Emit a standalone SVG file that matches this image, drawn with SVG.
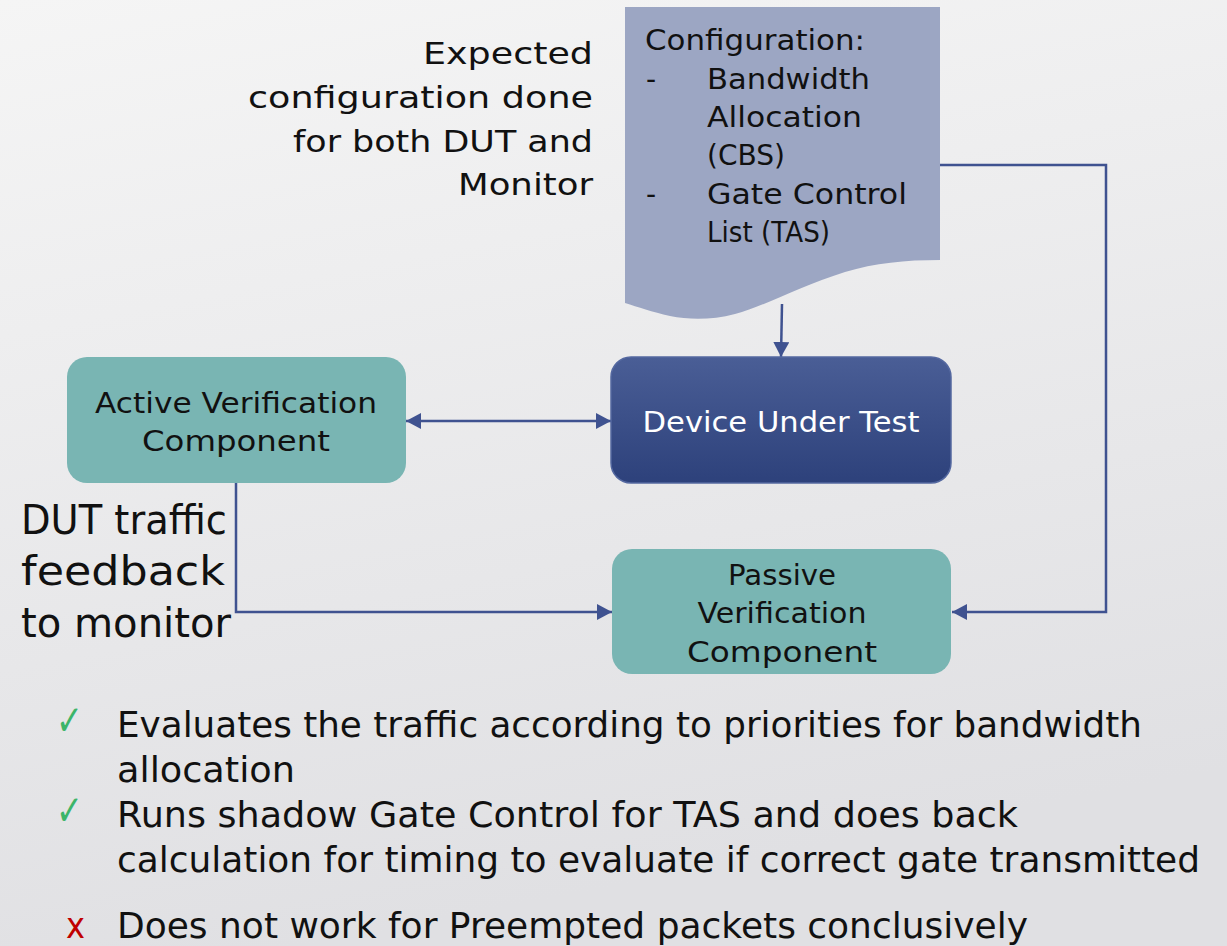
<svg xmlns="http://www.w3.org/2000/svg" width="1227" height="946" viewBox="0 0 1227 946">
  <defs>
    <linearGradient id="bg" x1="0" y1="0" x2="0.25" y2="1">
      <stop offset="0" stop-color="#f5f5f5"/>
      <stop offset="1" stop-color="#e0e0e3"/>
    </linearGradient>
    <linearGradient id="dutFill" x1="0" y1="0" x2="0" y2="1">
      <stop offset="0" stop-color="#4a5e96"/>
      <stop offset="1" stop-color="#2d417b"/>
    </linearGradient>
    <marker id="arrow" viewBox="0 0 15 16" refX="15" refY="8" markerWidth="15" markerHeight="16" markerUnits="userSpaceOnUse" orient="auto-start-reverse">
      <path d="M0,0 L15,8 L0,16 Z" fill="#3f5290"/>
    </marker>
    <style>
      text { font-family: "DejaVu Sans", "Liberation Sans", sans-serif; fill: #111; }
      .conn { fill: none; stroke: #3f5290; stroke-width: 2.5; }
      .teal { fill: #79b5b3; }
      .box { font-size: 28px; }
      .doc { font-size: 28px; }
      .note { font-size: 31px; }
      .side { font-size: 41px; }
      .bullet { font-size: 35px; }
      .tick { fill: #3cb569; font-size: 42px; }
      .cross { fill: #c00000; font-size: 35px; }
    </style>
  </defs>

  <!-- slide background -->
  <rect x="0" y="0" width="1227" height="946" fill="url(#bg)"/>

  <!-- connectors -->
  <g id="connectors">
    <path class="conn" d="M782,304 L781,357" marker-end="url(#arrow)"/>
    <path class="conn" d="M406,421 L611,421" marker-start="url(#arrow)" marker-end="url(#arrow)"/>
    <path class="conn" d="M940,165 H1106 V612 H952" marker-end="url(#arrow)"/>
    <path class="conn" d="M236,483 V612 H612" marker-end="url(#arrow)"/>
  </g>

  <!-- configuration document -->
  <g id="config-doc">
    <path d="M625,7 H940 V260 C905,260 875,263 845,272 C800,286 765,306 735,314 C712,320 690,320 670,316 C652,312 638,307 625,303 Z" fill="#9ca6c3"/>
    <text class="doc" x="645" y="50" textLength="220" lengthAdjust="spacingAndGlyphs">Configuration:</text>
    <text class="doc" x="646" y="89">-</text>
    <text class="doc" x="707" y="89" textLength="163" lengthAdjust="spacingAndGlyphs">Bandwidth</text>
    <text class="doc" x="707" y="127" textLength="155" lengthAdjust="spacingAndGlyphs">Allocation</text>
    <text class="doc" x="707" y="165" textLength="78" lengthAdjust="spacingAndGlyphs">(CBS)</text>
    <text class="doc" x="646" y="204">-</text>
    <text class="doc" x="707" y="204" textLength="200" lengthAdjust="spacingAndGlyphs">Gate Control</text>
    <text class="doc" x="707" y="242" textLength="123" lengthAdjust="spacingAndGlyphs">List (TAS)</text>
  </g>

  <!-- note about configuration -->
  <g id="config-note">
    <text class="note" x="593" y="64" text-anchor="end" textLength="170" lengthAdjust="spacingAndGlyphs">Expected</text>
    <text class="note" x="593" y="108" text-anchor="end" textLength="345" lengthAdjust="spacingAndGlyphs">configuration done</text>
    <text class="note" x="593" y="152" text-anchor="end" textLength="300" lengthAdjust="spacingAndGlyphs">for both DUT and</text>
    <text class="note" x="593" y="195" text-anchor="end" textLength="135" lengthAdjust="spacingAndGlyphs">Monitor</text>
  </g>

  <!-- active verification component -->
  <g id="active-vc">
    <rect class="teal" x="67" y="357" width="339" height="126" rx="20"/>
    <text class="box" x="236" y="413" text-anchor="middle" textLength="282" lengthAdjust="spacingAndGlyphs">Active Verification</text>
    <text class="box" x="236" y="451" text-anchor="middle" textLength="188" lengthAdjust="spacingAndGlyphs">Component</text>
  </g>

  <!-- device under test -->
  <g id="dut">
    <rect x="611" y="357" width="340" height="126" rx="20" fill="url(#dutFill)" stroke="#5468a0" stroke-width="1.5"/>
    <text class="box" x="781" y="432" text-anchor="middle" textLength="277" lengthAdjust="spacingAndGlyphs" style="fill:#ffffff">Device Under Test</text>
  </g>

  <!-- passive verification component -->
  <g id="passive-vc">
    <rect class="teal" x="612" y="549" width="339" height="125" rx="20"/>
    <text class="box" x="782" y="585" text-anchor="middle" textLength="108" lengthAdjust="spacingAndGlyphs">Passive</text>
    <text class="box" x="782" y="623" text-anchor="middle" textLength="169" lengthAdjust="spacingAndGlyphs">Verification</text>
    <text class="box" x="782" y="662" text-anchor="middle" textLength="190" lengthAdjust="spacingAndGlyphs">Component</text>
  </g>

  <!-- feedback note -->
  <g id="feedback-note">
    <text class="side" x="21" y="534" textLength="206" lengthAdjust="spacingAndGlyphs">DUT traffic</text>
    <text class="side" x="21" y="585" textLength="204" lengthAdjust="spacingAndGlyphs">feedback</text>
    <text class="side" x="21" y="637" textLength="210" lengthAdjust="spacingAndGlyphs">to monitor</text>
  </g>

  <!-- result list -->
  <g id="results">
    <text class="tick" x="56" y="735" textLength="27" lengthAdjust="spacingAndGlyphs">✓</text>
    <text class="bullet" x="117" y="737" textLength="1025" lengthAdjust="spacingAndGlyphs">Evaluates the traffic according to priorities for bandwidth</text>
    <text class="bullet" x="117" y="782" textLength="178" lengthAdjust="spacingAndGlyphs">allocation</text>
    <text class="tick" x="56" y="825" textLength="27" lengthAdjust="spacingAndGlyphs">✓</text>
    <text class="bullet" x="117" y="827" textLength="901" lengthAdjust="spacingAndGlyphs">Runs shadow Gate Control for TAS and does back</text>
    <text class="bullet" x="117" y="872" textLength="1083" lengthAdjust="spacingAndGlyphs">calculation for timing to evaluate if correct gate transmitted</text>
    <text class="cross" x="66" y="938" textLength="19" lengthAdjust="spacingAndGlyphs">x</text>
    <text class="bullet" x="117" y="938" textLength="911" lengthAdjust="spacingAndGlyphs">Does not work for Preempted packets conclusively</text>
  </g>
</svg>
